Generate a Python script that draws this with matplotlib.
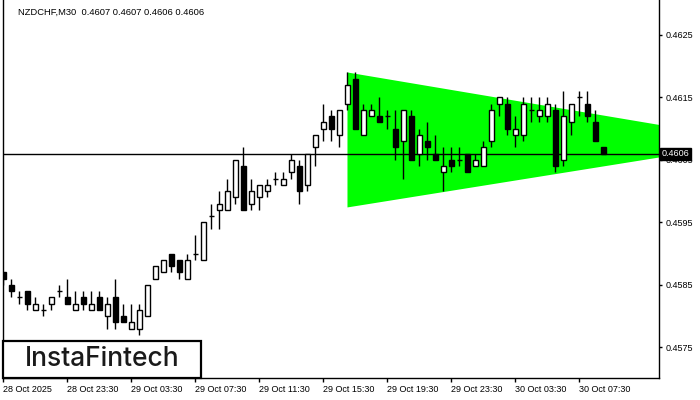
import matplotlib
matplotlib.use("Agg")
import matplotlib.pyplot as plt
from matplotlib.patches import Rectangle, Polygon
from matplotlib.transforms import blended_transform_factory

# ---------------- data ----------------
opens = [0.4587, 0.4585, 0.4583, 0.4584, 0.4581, 0.4581, 0.4582, 0.4584, 0.4583, 0.4581,
         0.4583, 0.4581, 0.4583, 0.4580, 0.4583, 0.4580, 0.4578, 0.4578, 0.4580, 0.4586,
         0.4587, 0.4590, 0.4589, 0.4586, 0.4590, 0.4589, 0.4596, 0.4597, 0.4597, 0.4599,
         0.4604, 0.4598, 0.4599, 0.4600, 0.4602, 0.4601, 0.4603, 0.4604, 0.4601, 0.4607,
         0.4610, 0.4612, 0.4609, 0.4614, 0.4618, 0.4609, 0.4612, 0.4612, 0.4612, 0.4610,
         0.4608, 0.4612, 0.4606, 0.4608, 0.4606, 0.4603, 0.4605, 0.4605, 0.4606, 0.4604,
         0.4604, 0.4608, 0.4614, 0.4614, 0.4609, 0.4609, 0.4613, 0.4612, 0.4612, 0.4613,
         0.4605, 0.4611, 0.4615, 0.4614, 0.4611, 0.4607]
highs = [0.4587, 0.4586, 0.4584, 0.4584, 0.4583, 0.4582, 0.4583, 0.4585, 0.4586, 0.4584,
         0.4584, 0.4584, 0.4584, 0.4583, 0.4586, 0.4582, 0.4582, 0.4582, 0.4585, 0.4588,
         0.4589, 0.4590, 0.4589, 0.4590, 0.4593, 0.4595, 0.4598, 0.4600, 0.4602, 0.4605,
         0.4607, 0.4602, 0.4601, 0.4602, 0.4603, 0.4603, 0.4606, 0.4605, 0.4606, 0.4609,
         0.4614, 0.4613, 0.4613, 0.4619, 0.4619, 0.4614, 0.4614, 0.4615, 0.4613, 0.4613,
         0.4613, 0.4613, 0.4610, 0.4611, 0.4609, 0.4607, 0.4607, 0.4607, 0.4606, 0.4606,
         0.4608, 0.4614, 0.4615, 0.4615, 0.4612, 0.4615, 0.4615, 0.4615, 0.4615, 0.4614,
         0.4616, 0.4614, 0.4616, 0.4616, 0.4613, 0.4607]
lows = [0.4585, 0.4583, 0.4582, 0.4581, 0.4581, 0.4580, 0.4581, 0.4583, 0.4582, 0.4581,
        0.4581, 0.4581, 0.4581, 0.4578, 0.4578, 0.4579, 0.4578, 0.4577, 0.4580, 0.4586,
        0.4587, 0.4587, 0.4586, 0.4586, 0.4589, 0.4589, 0.4594, 0.4594, 0.4597, 0.4598,
        0.4597, 0.4597, 0.4597, 0.4599, 0.4601, 0.4601, 0.4602, 0.4598, 0.4600, 0.4604,
        0.4608, 0.4608, 0.4607, 0.4613, 0.4610, 0.4609, 0.4612, 0.4611, 0.4610, 0.4605,
        0.4602, 0.4605, 0.4604, 0.4605, 0.4605, 0.4600, 0.4603, 0.4604, 0.4603, 0.4604,
        0.4604, 0.4607, 0.4612, 0.4609, 0.4607, 0.4608, 0.4611, 0.4611, 0.4611, 0.4603,
        0.4604, 0.4609, 0.4612, 0.4611, 0.4608, 0.4606]
closes = [0.4586, 0.4584, 0.4583, 0.4582, 0.4582, 0.4581, 0.4583, 0.4584, 0.4582, 0.4582,
          0.4582, 0.4582, 0.4581, 0.4582, 0.4579, 0.4579, 0.4579, 0.4581, 0.4585, 0.4588,
          0.4589, 0.4588, 0.4587, 0.4589, 0.4590, 0.4595, 0.4596, 0.4598, 0.4600, 0.4605,
          0.4597, 0.4600, 0.4601, 0.4601, 0.4602, 0.4602, 0.4605, 0.4600, 0.4606, 0.4609,
          0.4611, 0.4610, 0.4613, 0.4617, 0.4610, 0.4613, 0.4613, 0.4611, 0.4612, 0.4607,
          0.4613, 0.4605, 0.4609, 0.4607, 0.4605, 0.4604, 0.4604, 0.4605, 0.4603, 0.4605,
          0.4607, 0.4613, 0.4615, 0.4610, 0.4610, 0.4614, 0.4613, 0.4613, 0.4614, 0.4604,
          0.4612, 0.4614, 0.4615, 0.4612, 0.4608, 0.4606]

x_tick_labels = ["28 Oct 2025", "28 Oct 23:30", "29 Oct 03:30", "29 Oct 07:30",
                 "29 Oct 11:30", "29 Oct 15:30", "29 Oct 19:30", "29 Oct 23:30",
                 "30 Oct 03:30", "30 Oct 07:30"]
y_ticks = [0.4575, 0.4585, 0.4595, 0.4605, 0.4615, 0.4625]
current_price = 0.4606
title = "NZDCHF,M30  0.4607 0.4607 0.4606 0.4606"

# triangle pattern (bar index, upper, lower)
tri_bars = [43, 82]
tri_upper = [0.4619, 0.46106]
tri_lower = [0.45974, 0.46054]

# ---------------- figure ----------------
W, H = 700, 400
fig = plt.figure(figsize=(7, 4), dpi=100)
ax = fig.add_axes([3 / W, (H - 378) / H, (659 - 3) / W, 378 / H])
ax.set_xlim(-0.06, 81.94)
ax.set_ylim(0.45701, 0.46306)

FONT = "Liberation Sans"

# triangle
poly = Polygon([(tri_bars[0], tri_upper[0]), (tri_bars[1], tri_upper[1]),
                (tri_bars[1], tri_lower[1]), (tri_bars[0], tri_lower[0])],
               closed=True, facecolor="#00ff00", edgecolor="none", zorder=1)
ax.add_patch(poly)

# current price line
ax.axhline(current_price, color="black", lw=1.0, zorder=2)

# candles
bw = 0.6
for i, (o, h, l, c) in enumerate(zip(opens, highs, lows, closes)):
    ax.vlines(i, l, h, color="black", lw=1.0, zorder=3)
    if abs(c - o) < 1e-9:
        ax.hlines(o, i - bw / 2, i + bw / 2, color="black", lw=1.0, zorder=4)
    else:
        fc = "white" if c > o else "black"
        ax.add_patch(Rectangle((i - bw / 2, min(o, c)), bw, abs(c - o),
                               facecolor=fc, edgecolor="black", lw=1.0, zorder=4))

# axes styling
ax.spines["top"].set_visible(False)
for s in ["left", "bottom", "right"]:
    ax.spines[s].set_linewidth(1.0)
    ax.spines[s].set_color("black")

ax.yaxis.tick_right()
ax.set_yticks(y_ticks)
ax.set_yticklabels([f"{v:.4f}" for v in y_ticks], fontfamily=FONT, fontsize=6.5)
ax.tick_params(axis="y", direction="out", length=2.5, width=1, pad=2.5)

ax.set_xticks([k * 8 for k in range(len(x_tick_labels))])
ax.set_xticklabels(x_tick_labels, fontfamily=FONT, fontsize=6.5, ha="left")
ax.tick_params(axis="x", direction="out", length=3, width=1, pad=2)

# price label box
tr = blended_transform_factory(ax.transAxes, ax.transData)
ax.text(1.0035, current_price, f"{current_price:.4f}", transform=tr, va="center", ha="left",
        color="white", fontfamily=FONT, fontsize=6.5, clip_on=False, zorder=10,
        bbox=dict(facecolor="black", edgecolor="black", pad=1.2))

# title
fig.text(18 / W, (H - 12) / H, title, fontfamily=FONT, fontsize=6.75, va="center", ha="left",
         color="black")

# logo
fig.add_artist(Rectangle((3 / W, (H - 378) / H), 198 / W, 37 / H, transform=fig.transFigure,
                         facecolor="white", edgecolor="black", lw=1.6, zorder=20))
fig.text(102 / W, (H - 359) / H, "InstaFintech", fontfamily="Inter", fontweight="medium",
         fontsize=19, color="#1a1a1a", ha="center", va="center", zorder=21)

fig.savefig("out.png", dpi=100)
